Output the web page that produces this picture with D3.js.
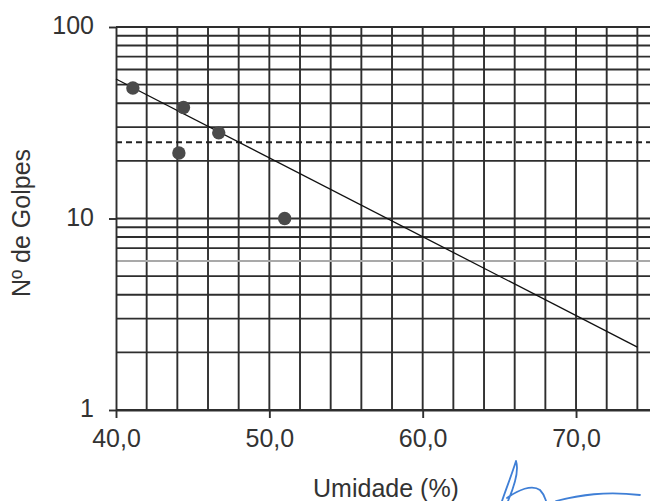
<!DOCTYPE html>
<html><head><meta charset="utf-8">
<script src="https://cdn.jsdelivr.net/npm/d3@7"></script>
<style>body{margin:0;background:#fff}svg{display:block}</style>
</head><body><svg id="c" width="650" height="501"></svg>
<script>
// data
const umidade = [41.1, 44.4, 46.7, 44.1, 51.0];
const golpes  = [48, 38, 28, 22, 10];
const trendX = [40, 74];
const trendY = [53.5, 2.13];
const xTicks = [40, 50, 60, 70];
const xTickLabels = ["40,0", "50,0", "60,0", "70,0"];
const yTicks = [1, 10, 100];
const yTickLabels = ["1", "10", "100"];
const refGolpes = [25];
const markGolpes = [6];
const xTitle = "Umidade (%)";
const yTitle = "Nº de Golpes";

const svg = d3.select("#c");
const font = "'Liberation Sans', Arial, sans-serif";
const textColor = "#333";
const x = d3.scaleLinear().domain([40, 75]).range([116, 652.7]);
const y = d3.scaleLog().domain([1, 100]).range([410, 27]);
const gridColor = "#2e2e2e";

// vertical grid
const xGrid = d3.range(42, 75.5, 2);
svg.append("g").selectAll("line").data(xGrid).join("line")
  .attr("x1", d => x(d)).attr("x2", d => x(d))
  .attr("y1", y(100)).attr("y2", y(1))
  .attr("stroke", gridColor).attr("stroke-width", 1.9);

// horizontal grid (log minors)
const yGrid = [];
[1, 10].forEach(dec => { for (let k = 1; k <= 9; k++) yGrid.push(k * dec); });
yGrid.push(100);
svg.append("g").selectAll("line").data(yGrid.filter(v => !markGolpes.includes(v))).join("line")
  .attr("x1", x(40)).attr("x2", 650)
  .attr("y1", d => y(d)).attr("y2", d => y(d))
  .attr("stroke", gridColor).attr("stroke-width", 1.9);

// highlighted gray line
svg.append("g").selectAll("line").data(markGolpes).join("line")
  .attr("x1", x(40)).attr("x2", 650)
  .attr("y1", d => y(d)).attr("y2", d => y(d))
  .attr("stroke", "#a9a9a9").attr("stroke-width", 1.9);

// dashed reference
svg.append("g").selectAll("line").data(refGolpes).join("line")
  .attr("x1", x(40)).attr("x2", 650)
  .attr("y1", d => y(d)).attr("y2", d => y(d))
  .attr("stroke", "#222").attr("stroke-width", 2)
  .attr("stroke-dasharray", "6,4");

// axes
const xAxis = d3.axisBottom(x).tickValues(xTicks).tickSize(8).tickFormat((d, i) => xTickLabels[i]).tickSizeOuter(0);
const gx = svg.append("g").attr("transform", `translate(0,${y(1)})`).call(xAxis);
gx.select(".domain").attr("stroke", gridColor).attr("stroke-width", 1.9);
gx.selectAll(".tick line").attr("stroke", gridColor).attr("stroke-width", 1.9);
gx.selectAll(".tick text").attr("font-family", font).attr("font-size", 25).attr("fill", textColor)
  .attr("y", 0).attr("dy", 0).attr("transform", "translate(0,37)");

const yAxis = d3.axisLeft(y).tickValues(yTicks).tickSize(7).tickFormat(d => yTickLabels[yTicks.indexOf(d)]).tickSizeOuter(0);
const gy = svg.append("g").attr("transform", `translate(${x(40)},0)`).call(yAxis);
gy.select(".domain").attr("stroke", gridColor).attr("stroke-width", 1.9);
gy.selectAll(".tick line").attr("stroke", gridColor).attr("stroke-width", 1.9);
gy.selectAll(".tick text").attr("font-family", font).attr("font-size", 25).attr("fill", textColor)
  .attr("x", -22).attr("dy", "0.26em");

// trend line
svg.append("path")
  .datum(trendX.map((v, i) => [v, trendY[i]]))
  .attr("d", d3.line().x(d => x(d[0])).y(d => y(d[1])))
  .attr("fill", "none").attr("stroke", "#111").attr("stroke-width", 1.3);

// points
svg.append("g").selectAll("circle").data(umidade.map((v, i) => [v, golpes[i]])).join("circle")
  .attr("cx", d => x(d[0])).attr("cy", d => y(d[1])).attr("r", 6.7)
  .attr("fill", "#4a4a4a");

// titles
svg.append("text").attr("x", 386).attr("y", 497).attr("text-anchor", "middle")
  .attr("font-family", font).attr("font-size", 25).attr("fill", textColor).text(xTitle);
svg.append("text").attr("transform", "translate(30,223) rotate(-90)").attr("text-anchor", "middle")
  .attr("font-family", font).attr("font-size", 25).attr("fill", textColor).text(yTitle);

// signature scribble
svg.append("path")
  .attr("d", "M516,461 C512,474 506,489 502,501 M516,461 C519,470 514,487 508,501 M507,498 C518,490 532,484 540,490 C544,494 545,498 546,501 M556,501 C580,495 605,491 640,495")
  .attr("fill", "none").attr("stroke", "#3f7fd6").attr("stroke-width", 1.8).attr("stroke-linecap", "round");
</script></body></html>
